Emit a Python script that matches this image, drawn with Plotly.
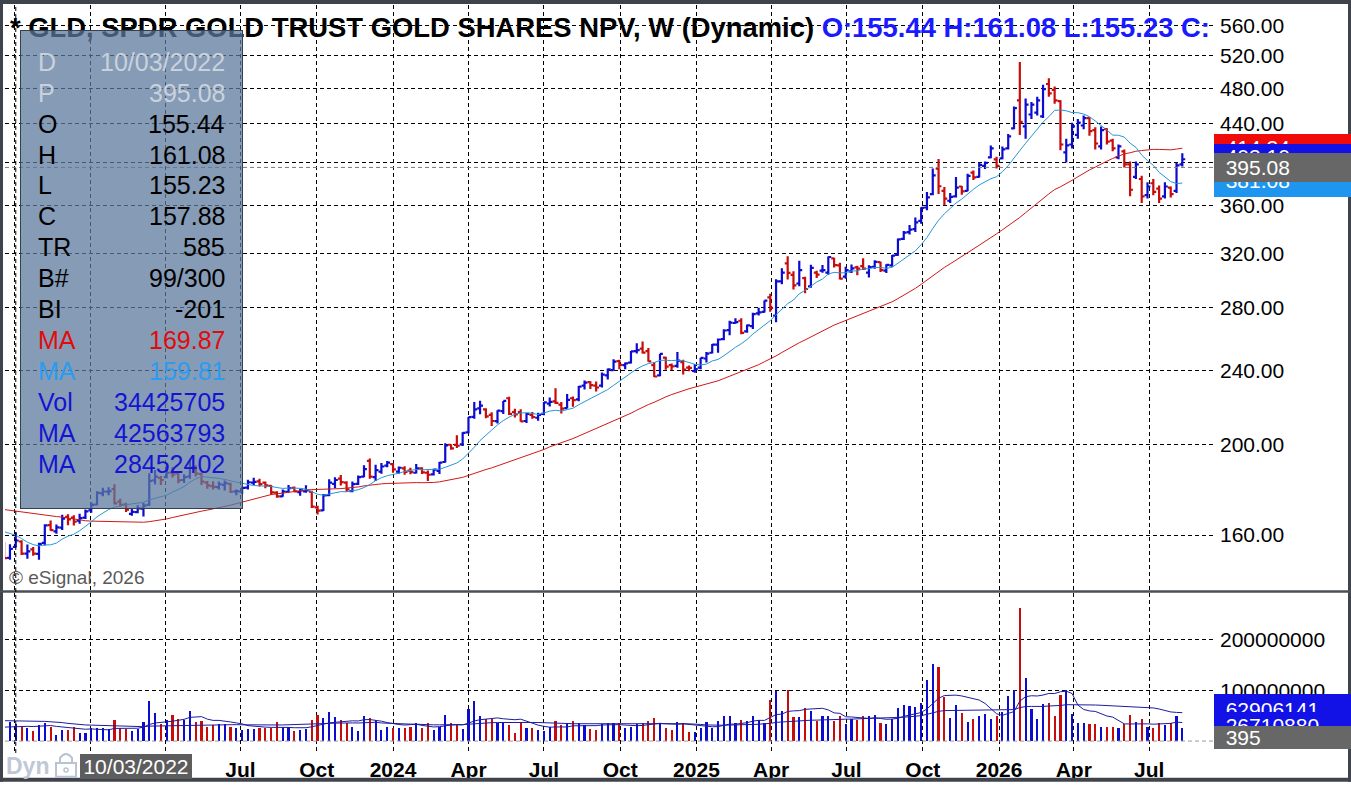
"""GLD weekly OHLC chart with volume, eSignal style, rebuilt with Plotly."""

import math

import pandas as pd
import plotly.graph_objects as go
from plotly.subplots import make_subplots

BLUE = "#0c0cd0"
RED = "#c80c0c"
FONT = "Arial, 'Liberation Sans', sans-serif"

# ---- data (weekly bars, Mondays from 2022-09-19) ----
weeks = pd.date_range("2022-09-19", periods=204, freq="7D")

opens = [
    155.9, 151.3, 155.44, 157.5, 152.9, 154.5, 152.8, 157.0, 164.0, 161.5,
    163.0, 167.3, 167.0, 165.8, 167.0, 170.0, 172.5, 177.3, 178.0, 179.2,
    173.7, 172.5, 168.6, 169.3, 170.8, 172.4, 183.0, 184.2, 184.5, 186.6,
    186.2, 183.2, 184.8, 189.0, 186.0, 182.0, 180.5, 180.0, 181.0, 181.5,
    178.2, 178.0, 179.8, 182.0, 182.6, 182.0, 180.6, 177.6, 176.0, 178.0,
    179.7, 177.8, 178.2, 178.0, 171.3, 170.0, 176.5, 181.5, 183.8, 182.0,
    178.3, 181.5, 184.7, 192.0, 184.5, 187.0, 189.8, 190.5, 187.0, 188.5,
    187.5, 186.5, 188.5, 186.5, 185.8, 187.3, 191.5, 199.8, 199.7, 200.0,
    206.0, 214.0, 218.5, 218.0, 215.0, 211.7, 217.0, 224.0, 216.5, 216.5,
    211.8, 215.0, 213.5, 215.5, 221.0, 222.3, 220.5, 218.6, 224.0, 223.4,
    231.0, 233.0, 231.0, 231.0, 237.0, 240.0, 245.4, 243.0, 244.5, 251.5,
    253.0, 251.5, 243.0, 237.0, 247.5, 243.0, 242.5, 244.8, 241.5, 239.5,
    241.5, 247.0, 250.5, 255.5, 259.0, 264.8, 269.5, 271.0, 264.0, 267.5,
    276.0, 277.0, 287.0, 274.5, 298.6, 312.0, 303.4, 297.0, 301.0, 295.0,
    305.0, 306.5, 305.0, 316.0, 310.5, 302.0, 306.0, 309.0, 310.0, 305.0,
    309.5, 313.0, 306.5, 310.5, 318.7, 331.5, 337.0, 339.5, 346.5, 358.0,
    370.0, 394.0, 373.0, 364.0, 368.0, 377.0, 373.0, 390.0, 386.0, 396.5,
    405.0, 403.0, 404.0, 414.0, 435.0, 466.0, 437.0, 450.0, 452.0, 448.0,
    485.0, 478.0, 465.0, 410.0, 418.0, 428.0, 438.0, 446.0, 433.0, 416.0,
    434.0, 422.0, 405.0, 411.0, 398.0, 386.0, 384.0, 369.0, 380.0, 375.0,
    368.0, 376.0, 373.0, 398.0,
]
highs = [
    157.3, 156.4, 161.08, 158.0, 156.3, 155.4, 157.0, 164.3, 165.8, 164.2,
    168.2, 168.4, 168.0, 168.6, 170.4, 173.5, 178.2, 179.8, 180.0, 181.3,
    175.0, 173.2, 171.0, 172.2, 173.1, 186.3, 187.8, 185.0, 189.8, 189.0,
    187.0, 185.8, 192.6, 190.0, 186.6, 182.8, 182.7, 182.5, 183.0, 182.0,
    179.0, 180.3, 183.3, 184.2, 183.8, 182.5, 181.0, 178.2, 179.0, 181.0,
    180.3, 179.3, 180.9, 178.4, 172.0, 177.0, 183.6, 184.4, 185.5, 182.6,
    182.5, 185.3, 190.0, 193.2, 190.2, 191.0, 192.0, 191.0, 189.4, 189.5,
    188.8, 190.6, 189.0, 187.5, 188.3, 191.5, 200.5, 200.0, 204.5, 206.0,
    213.9, 222.0, 222.6, 218.5, 216.4, 217.5, 222.5, 224.8, 218.3, 218.0,
    216.0, 216.6, 216.2, 222.0, 224.4, 229.6, 222.0, 226.3, 225.0, 230.8,
    234.0, 233.5, 233.4, 238.6, 241.0, 246.6, 246.3, 244.5, 251.6, 256.5,
    257.6, 253.5, 244.8, 249.9, 248.0, 244.0, 251.0, 246.3, 242.8, 243.7,
    247.5, 251.0, 256.0, 259.5, 265.4, 271.0, 272.6, 272.7, 268.6, 276.4,
    279.8, 284.9, 289.6, 300.1, 308.4, 317.6, 306.0, 314.0, 302.0, 311.0,
    306.5, 310.8, 317.4, 316.5, 312.5, 309.5, 311.2, 310.3, 316.0, 310.7,
    314.5, 313.4, 311.4, 318.6, 331.7, 337.9, 343.0, 349.4, 358.3, 372.0,
    394.0, 403.3, 376.5, 371.0, 386.0, 377.5, 389.0, 392.0, 400.0, 401.0,
    417.0, 405.5, 416.0, 429.0, 459.0, 512.0, 468.0, 464.0, 470.0, 484.0,
    492.0, 482.0, 466.0, 424.0, 441.0, 445.0, 449.0, 447.0, 436.0, 437.0,
    435.0, 424.0, 418.0, 413.0, 401.0, 401.0, 387.0, 381.0, 384.0, 378.0,
    381.0, 377.0, 400.0, 409.0,
]
lows = [
    151.0, 150.6, 155.23, 152.4, 151.0, 152.1, 150.6, 156.0, 161.7, 160.5,
    162.0, 163.9, 163.8, 164.5, 166.5, 169.0, 172.2, 176.0, 176.5, 172.5,
    171.5, 169.3, 167.8, 168.8, 167.5, 172.0, 181.2, 181.0, 184.0, 184.3,
    181.7, 181.9, 183.8, 184.8, 181.0, 179.3, 179.0, 179.0, 178.5, 177.5,
    176.5, 177.0, 179.0, 181.0, 180.3, 179.5, 176.7, 175.4, 175.8, 177.6,
    177.8, 176.3, 177.6, 171.0, 168.3, 169.8, 176.0, 179.5, 180.8, 178.0,
    177.8, 181.0, 184.5, 183.8, 182.8, 186.0, 189.0, 186.5, 186.0, 185.6,
    185.8, 186.2, 185.9, 182.8, 185.3, 185.9, 191.3, 197.3, 198.2, 199.2,
    205.5, 213.0, 215.3, 213.2, 209.2, 210.5, 215.5, 215.0, 213.7, 211.4,
    210.8, 213.0, 212.0, 214.8, 219.5, 220.8, 215.8, 218.4, 219.4, 222.4,
    228.8, 229.2, 227.7, 230.0, 234.6, 239.8, 240.5, 240.6, 244.0, 250.0,
    250.0, 245.0, 236.0, 236.5, 240.2, 240.0, 241.5, 237.4, 239.3, 238.5,
    240.5, 244.6, 250.0, 250.5, 258.3, 261.5, 269.0, 262.2, 263.1, 265.5,
    274.5, 276.6, 277.0, 270.0, 296.4, 300.0, 292.6, 295.0, 290.0, 294.0,
    301.0, 305.0, 303.5, 309.0, 300.0, 300.5, 304.7, 303.0, 307.0, 301.5,
    308.0, 305.5, 304.8, 309.5, 318.0, 330.5, 335.0, 337.0, 344.0, 355.5,
    369.0, 370.0, 360.0, 362.0, 367.0, 369.5, 372.5, 383.0, 385.5, 393.5,
    404.0, 394.0, 403.0, 413.0, 434.0, 428.0, 424.0, 445.0, 449.0, 446.0,
    470.0, 462.0, 412.0, 400.0, 414.0, 424.0, 434.0, 427.0, 413.0, 413.0,
    418.0, 411.0, 403.0, 395.0, 368.0, 384.0, 362.0, 366.0, 369.0, 362.0,
    366.0, 367.0, 371.0, 396.0,
]
closes = [
    151.2, 154.7, 157.88, 152.9, 153.7, 152.9, 156.6, 163.9, 162.0, 163.1,
    166.6, 166.3, 165.4, 166.8, 169.6, 172.3, 177.5, 178.1, 178.3, 173.0,
    172.4, 170.3, 169.4, 170.9, 172.0, 182.8, 184.7, 183.2, 186.5, 185.8,
    183.0, 184.5, 188.9, 186.1, 182.5, 180.8, 180.1, 181.3, 181.8, 178.0,
    178.3, 179.7, 182.2, 182.4, 181.4, 180.8, 177.7, 176.0, 178.1, 179.6,
    178.2, 178.6, 178.6, 171.6, 169.9, 176.4, 182.0, 183.2, 182.3, 179.0,
    181.4, 184.5, 188.2, 184.7, 187.7, 189.4, 191.2, 188.1, 188.8, 186.9,
    186.8, 188.5, 186.7, 185.6, 187.9, 191.2, 199.5, 198.0, 199.3, 205.7,
    213.8, 218.0, 220.0, 214.2, 211.8, 217.3, 222.5, 215.5, 215.3, 211.6,
    215.6, 213.9, 215.0, 221.7, 222.0, 221.5, 218.3, 223.1, 223.0, 230.5,
    232.8, 231.3, 230.0, 237.4, 240.5, 245.1, 243.1, 244.0, 251.3, 252.1,
    250.6, 245.3, 236.3, 249.8, 242.1, 242.3, 245.7, 240.3, 241.4, 240.6,
    247.4, 250.0, 255.5, 258.8, 264.6, 269.8, 270.1, 263.1, 268.0, 275.5,
    276.6, 284.7, 279.7, 298.5, 305.1, 304.9, 295.6, 307.0, 293.0, 308.6,
    303.6, 306.9, 317.0, 310.8, 300.6, 307.0, 308.3, 308.0, 308.1, 309.3,
    313.2, 307.0, 310.9, 318.1, 331.1, 336.6, 339.0, 345.1, 357.6, 367.0,
    387.4, 377.2, 366.0, 367.5, 376.0, 372.5, 387.0, 385.5, 397.5, 399.5,
    414.0, 396.5, 413.0, 426.5, 457.0, 442.0, 461.0, 461.0, 466.0, 479.0,
    474.0, 466.0, 418.0, 417.0, 437.0, 441.0, 446.0, 432.0, 419.0, 433.0,
    421.0, 414.0, 416.0, 398.0, 374.0, 398.0, 368.0, 377.0, 372.0, 366.0,
    377.0, 370.0, 397.0, 403.1,
]
# weekly volume, millions of shares
volumes_m = [
    36, 37, 34.4, 29, 26, 20, 31, 35, 28, 13,
    23, 22, 29, 16, 16, 26, 26, 26, 24, 41,
    26, 24, 20, 24, 37, 78.5, 55.6, 33, 42.5, 50.7,
    44, 42.5, 59, 37, 39, 29, 31, 33, 33, 29,
    26, 23, 24, 24, 26, 26, 26, 37, 29, 28,
    20, 23, 24, 42.5, 52, 46, 57, 48, 42.5, 36,
    28, 20, 49, 46, 42.5, 23, 29, 26, 26, 26,
    29, 35, 26, 35, 23, 29, 52, 35, 31, 24,
    63, 78.5, 50, 44, 44, 35, 35, 31, 16, 35,
    26, 26, 22, 20, 28, 39, 31, 35, 39, 35,
    31, 24, 22, 33, 35, 35, 35, 26, 29, 33,
    36, 39, 46, 36, 26, 23, 37, 35, 18, 18,
    26, 37, 26, 39, 50, 49, 35, 42.5, 39, 49,
    42.5, 35, 82, 98, 59, 101, 47, 47, 65, 59,
    39, 49, 50, 39, 50, 33, 44, 42.5, 50, 49,
    52, 36, 33, 44, 65, 72, 69, 67, 75, 120,
    152, 146, 87, 46, 71, 56, 37, 44, 49, 54,
    44, 50, 57, 90, 100, 262, 124, 63, 44, 73,
    75, 49, 92, 101, 54, 36, 36, 34, 34, 29,
    29, 28, 26, 33, 52, 37, 44, 28, 26, 36,
    31, 36, 49, 26.7,
]
# 39 weeks before the window, only used to seed the moving averages
prior_closes = [
    168.0, 171.0, 167.5, 169.8, 171.7, 167.4, 168.3, 173.9, 176.7, 176.0,
    182.4, 184.5, 179.5, 180.9, 178.2, 179.8, 183.0, 180.4, 176.9, 174.4,
    169.3, 172.4, 171.4, 172.4, 174.0, 171.6, 169.4, 168.5, 162.6, 159.8,
    161.8, 164.6, 166.2, 167.6, 162.2, 161.6, 160.0, 161.8, 156.4,
]
prior_volumes_m = [
    38, 25, 40, 42, 35, 48, 40, 50, 52, 58,
    85, 80, 55, 48, 40, 42, 45, 38, 42, 40,
    48, 42, 35, 38, 36, 45, 34, 30, 40, 42,
    30, 28, 26, 27, 24, 25, 22, 27, 30,
]

price_ticks = [160, 200, 240, 280, 320, 360, 400, 440, 480, 520, 560]
price_tick_text = ["160.00", "200.00", "240.00", "280.00", "320.00", "360.00", "",
                   "440.00", "480.00", "520.00", "560.00"]
vol_ticks = [100e6, 200e6]
vol_tick_text = ["100000000", "200000000"]
quarter_dates = ["2022-10-01", "2023-01-01", "2023-04-01", "2023-07-01", "2023-10-01",
                 "2024-01-01", "2024-04-01", "2024-07-01", "2024-10-01", "2025-01-01",
                 "2025-04-01", "2025-07-01", "2025-10-01", "2026-01-01", "2026-04-01",
                 "2026-07-01"]
quarter_text = ["", "", "", "Jul", "Oct", "2024", "Apr", "Jul", "Oct", "2025",
                "Apr", "Jul", "Oct", "2026", "Apr", "Jul"]

# right-edge value markers as printed on the reference
price_marks = ["414.24", "403.10", "381.08", "395.08"]
volume_marks = ["62906141", "26710880", "395"]

data_window = [
    ("D", "10/03/2022", "#c9d2dc"),
    ("P", "395.08", "#c9d2dc"),
    ("O", "155.44", "black"),
    ("H", "161.08", "black"),
    ("L", "155.23", "black"),
    ("C", "157.88", "black"),
    ("TR", "585", "black"),
    ("B#", "99/300", "black"),
    ("BI", "-201", "black"),
    ("MA", "169.87", "#e00c0c"),
    ("MA", "159.81", "#2b9cf0"),
    ("Vol", "34425705", "#1414d2"),
    ("MA", "42563793", "#1414d2"),
    ("MA", "28452402", "#1414d2"),
]

# ---- derived series ----
all_close = pd.Series(prior_closes + closes)
ma_slow = all_close.rolling(40).mean().iloc[len(prior_closes):].tolist()
ma_fast = all_close.rolling(10).mean().iloc[len(prior_closes):].tolist()
all_vol = pd.Series([v * 1e6 for v in prior_volumes_m + volumes_m])
vol_ma_slow = all_vol.rolling(40).mean().iloc[len(prior_volumes_m):].tolist()
vol_ma_fast = all_vol.rolling(10).mean().iloc[len(prior_volumes_m):].tolist()
volumes = [v * 1e6 for v in volumes_m]
vol_colors = [BLUE if c >= o else RED for o, c in zip(opens, closes)]

# ---- pixel helpers (plot area is x 5..1213, y 5..757 in a 1351x786 page) ----
W, H = 1351, 786
L, R, T, B = 5, 1213, 5, 757
PRICE_RANGE = [math.log10(139.5), math.log10(589.0)]
VOL_RANGE = [-23.5e6, 292e6]


def fx(px):
    return (px - L) / (R - L)


def fy(py):
    return (B - py) / (B - T)


price_dom = [fy(594), 1.0]
vol_dom = [0.0, fy(596)]


def price_y(v):
    f = (math.log10(v) - PRICE_RANGE[0]) / (PRICE_RANGE[1] - PRICE_RANGE[0])
    return price_dom[0] + f * (price_dom[1] - price_dom[0])


def vol_y(v):
    f = (v - VOL_RANGE[0]) / (VOL_RANGE[1] - VOL_RANGE[0])
    return vol_dom[0] + f * (vol_dom[1] - vol_dom[0])


def text_at(x, y, text, size=21, color="black", xanchor="left"):
    return dict(x=fx(x), y=fy(y), xref="paper", yref="paper", text=text, showarrow=False,
                xanchor=xanchor, yanchor="middle", font=dict(family=FONT, size=size, color=color))


def box(x0, x1, y0, y1, color, text=" ", size=21, text_color="white", align="left",
        border=None):
    d = dict(x=fx(x0), y=fy(y0), xref="paper", yref="paper", xanchor="left", yanchor="top",
             width=x1 - x0, height=y1 - y0, bgcolor=color, borderpad=0, text=text,
             align=align, valign="middle", showarrow=False,
             font=dict(family=FONT, size=size, color=text_color))
    if border:
        d.update(bordercolor=border, borderwidth=1, width=x1 - x0 - 2, height=y1 - y0 - 2)
    else:
        d.update(borderwidth=0)
    return d


def rect(x0, y0, x1, y1, color):
    return dict(type="rect", xref="paper", yref="paper", x0=fx(x0), x1=fx(x1),
                y0=fy(y0), y1=fy(y1), fillcolor=color, line_width=0, layer="above")


# ---- figure ----
fig = make_subplots(rows=2, cols=1, shared_xaxes=True, vertical_spacing=0.01)

fig.add_trace(
    go.Ohlc(
        x=weeks, open=opens, high=highs, low=lows, close=closes,
        increasing_line_color=BLUE, decreasing_line_color=RED,
        line_width=2.2, tickwidth=0.5, hoverinfo="skip",
    ),
    row=1, col=1,
)
fig.add_trace(go.Scatter(x=weeks, y=ma_slow, mode="lines",
                         line=dict(color="#d01818", width=1), hoverinfo="skip"), row=1, col=1)
fig.add_trace(go.Scatter(x=weeks, y=ma_fast, mode="lines",
                         line=dict(color="#2596d6", width=1), hoverinfo="skip"), row=1, col=1)
fig.add_trace(go.Bar(x=weeks, y=volumes, marker_color=vol_colors, marker_line_width=0,
                     width=2.6 * 86400000, hoverinfo="skip"), row=2, col=1)
fig.add_trace(go.Scatter(x=weeks, y=vol_ma_slow, mode="lines",
                         line=dict(color="#1c1ca0", width=1), hoverinfo="skip"), row=2, col=1)
fig.add_trace(go.Scatter(x=weeks, y=vol_ma_fast, mode="lines",
                         line=dict(color="#1c1ca0", width=1), hoverinfo="skip"), row=2, col=1)

grid = dict(showgrid=True, gridcolor="black", gridwidth=1, griddash="4px,3px",
            zeroline=False, showline=False, ticks="")
fig.update_xaxes(**grid, type="date", range=["2022-09-20", "2026-09-16"],
                 tickvals=quarter_dates, ticktext=[f"<b>{t}</b>" for t in quarter_text],
                 tickfont=dict(family=FONT, size=21, color="black"),
                 ticklabelstandoff=2, rangeslider_visible=False)
fig.update_yaxes(**grid, type="log", range=PRICE_RANGE, domain=price_dom, side="right",
                 tickvals=price_ticks, ticktext=price_tick_text, ticklabelstandoff=6,
                 tickfont=dict(family=FONT, size=21, color="black"), row=1, col=1)
fig.update_yaxes(**grid, range=VOL_RANGE, domain=vol_dom, side="right",
                 tickvals=vol_ticks, ticktext=vol_tick_text, ticklabelstandoff=6,
                 tickfont=dict(family=FONT, size=21, color="black"), row=2, col=1)

shapes = [
    # frame and panel separator
    rect(0, 0, W, 4, "#3f434b"),
    rect(0, 0, 3, H, "#3f434b"),
    rect(0, 782, W, H, "#3f434b"),
    rect(1348, 0, W, H, "#3f434b"),
    rect(0, 593.5, W, 596, "#4a4e56"),
    # cursor lines
    dict(type="line", xref="x", yref="paper", x0="2022-10-03", x1="2022-10-03", y0=0, y1=1,
         line=dict(color="black", width=1, dash="4px,3px")),
    dict(type="line", xref="paper", yref="paper", x0=0, x1=1,
         y0=price_y(395.08), y1=price_y(395.08),
         line=dict(color="#7a7a7a", width=1, dash="4px,3px")),
    dict(type="line", xref="paper", yref="paper", x0=0, x1=1,
         y0=vol_y(0), y1=vol_y(0), line=dict(color="#9a9a9a", width=1, dash="4px,3px")),
    # padlock icon
    dict(type="rect", xref="paper", yref="paper", x0=fx(56), x1=fx(76), y0=fy(781), y1=fy(767),
         line=dict(color="#b9c3d2", width=2), fillcolor="white"),
    dict(type="path", xref="paper", yref="paper",
         path=f"M {fx(60)},{fy(767)} L {fx(60)},{fy(762)} Q {fx(66)},{fy(754)} {fx(72)},{fy(762)}"
              f" L {fx(72)},{fy(767)}",
         line=dict(color="#b9c3d2", width=2)),
    dict(type="circle", xref="paper", yref="paper", x0=fx(64), x1=fx(68), y0=fy(776), y1=fy(772),
         line=dict(color="#b9c3d2", width=1.5)),
]

annotations = [
    text_at(8, 28, "<b>* GLD, SPDR GOLD TRUST GOLD SHARES NPV, W (Dynamic) "
                   "<span style='color:#1a1aff'>O:155.44 H:161.08 L:155.23 C:</span></b>",
            size=27.4),
    box(20, 243, 30, 509, "rgba(92,120,156,0.74)", border="#33404f"),
]
for i, (name, value, color) in enumerate(data_window):
    y = 62 + i * 31.1
    annotations.append(text_at(36, y, name, size=25, color=color))
    annotations.append(text_at(227, y, value, size=25, color=color, xanchor="right"))

nb = "\u00a0\u00a0"
annotations += [
    text_at(7, 581, "© eSignal, 2026", size=19, color="#5a5a5a"),
    text_at(4, 770, "<b>Dyn</b>", size=23, color="#bfc8d6"),
    box(80, 192, 758, 783, "#5d5d5d", text="10/03/2022", align="center"),
    # price axis markers
    box(1214, W, 135, 161, "#f00a0a", text=nb + price_marks[0]),
    box(1214, W, 145, 170, "#1212e6", text=nb + price_marks[1]),
    box(1214, W, 165, 198, "#1e96f0", text=nb + price_marks[2]),
    box(1214, W, 154, 183, "#676767", text=nb + price_marks[3]),
    # volume axis markers
    box(1214, W, 698, 728, "#1212e6", text=nb + volume_marks[0]),
    box(1214, W, 716, 742, "#1212e6", text=nb + volume_marks[1]),
    box(1214, W, 730, 753, "#676767", text=nb + volume_marks[2]),
]

fig.update_layout(
    width=W, height=H,
    margin=dict(l=L, r=W - R, t=T, b=H - B),
    paper_bgcolor="white", plot_bgcolor="white",
    font=dict(family=FONT, color="black"),
    showlegend=False, bargap=0,
    shapes=shapes, annotations=annotations,
)

fig.write_html("out.html", config={"displayModeBar": False},
               post_script="document.body.style.margin='0';"
                           "document.body.style.overflow='hidden';")
